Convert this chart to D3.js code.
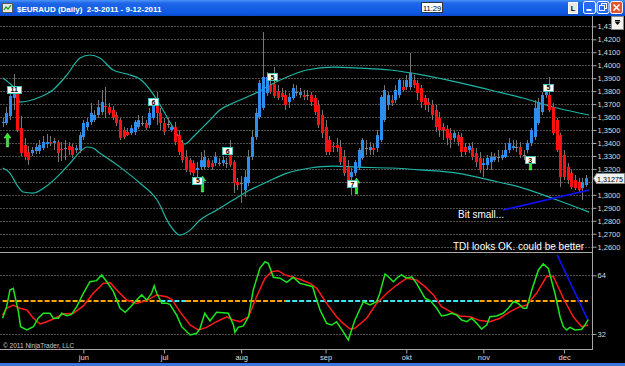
<!DOCTYPE html>
<html>
<head>
<meta charset="utf-8">
<script src="https://cdn.jsdelivr.net/npm/d3@7"></script>
<style>
html, body { margin: 0; padding: 0; background: #000; overflow: hidden; }
svg { display: block; }
text { font-family: "Liberation Sans", Arial, sans-serif; }
</style>
</head>
<body>
<script>
// EURAUD daily, 2-5-2011 .. 9-12-2011 (160 trading days)
const open = [1.3554,1.3554,1.3608,1.3747,1.3793,1.3515,1.3384,1.3330,1.3322,1.3338,1.3338,1.3361,1.3392,1.3407,1.3400,1.3407,1.3353,1.3361,1.3376,1.3369,
1.3346,1.3346,1.3446,1.3523,1.3562,1.3577,1.3616,1.3639,1.3685,1.3677,1.3654,1.3616,1.3577,1.3500,1.3485,1.3477,1.3485,1.3523,1.3554,1.3554,
1.3539,1.3593,1.3731,1.3631,1.3554,1.3546,1.3500,1.3523,1.3461,1.3400,1.3292,1.3268,1.3245,1.3191,1.3214,1.3214,1.3268,1.3245,1.3245,1.3245,
1.3245,1.3245,1.3361,1.3253,1.3099,1.3091,1.3037,1.3091,1.3292,1.3446,1.3600,1.3670,1.3785,1.3847,1.3855,1.3801,1.3785,1.3770,1.3716,1.3747,
1.3793,1.3770,1.3770,1.3770,1.3770,1.3747,1.3693,1.3616,1.3523,1.3423,1.3376,1.3384,1.3369,1.3292,1.3214,1.3137,1.3168,1.3214,1.3284,1.3361,
1.3346,1.3361,1.3361,1.3423,1.3577,1.3693,1.3731,1.3731,1.3770,1.3832,1.3832,1.3832,1.3886,1.3863,1.3824,1.3747,1.3716,1.3693,1.3654,1.3593,
1.3523,1.3508,1.3477,1.3438,1.3461,1.3446,1.3369,1.3346,1.3361,1.3322,1.3284,1.3230,1.3230,1.3253,1.3268,1.3292,1.3284,1.3292,1.3346,1.3361,
1.3369,1.3369,1.3307,1.3346,1.3400,1.3446,1.3554,1.3639,1.3770,1.3770,1.3677,1.3577,1.3461,1.3307,1.3214,1.3168,1.3114,1.3099,1.3052,1.3076];
const high = [1.3593,1.3677,1.3793,1.3932,1.3824,1.3608,1.3438,1.3376,1.3369,1.3392,1.3423,1.3454,1.3469,1.3454,1.3438,1.3423,1.3407,1.3423,1.3407,1.3392,
1.3384,1.3485,1.3577,1.3593,1.3708,1.3654,1.3731,1.3809,1.3832,1.3708,1.3685,1.3639,1.3593,1.3523,1.3515,1.3539,1.3577,1.3616,1.3608,1.3577,
1.3670,1.3731,1.3793,1.3670,1.3593,1.3593,1.3546,1.3562,1.3500,1.3423,1.3346,1.3284,1.3268,1.3253,1.3330,1.3346,1.3284,1.3268,1.3330,1.3284,
1.3299,1.3284,1.3423,1.3268,1.3130,1.3145,1.3191,1.3346,1.3500,1.3670,1.3886,1.4256,1.3947,1.3886,1.3986,1.3847,1.3824,1.3809,1.3785,1.3855,
1.3847,1.3824,1.3809,1.3809,1.3793,1.3770,1.3731,1.3654,1.3577,1.3454,1.3407,1.3438,1.3423,1.3346,1.3268,1.3207,1.3268,1.3361,1.3438,1.3423,
1.3407,1.3392,1.3500,1.3770,1.3847,1.3793,1.3770,1.3847,1.3901,1.3886,1.3924,1.4094,1.3924,1.3886,1.3847,1.3770,1.3747,1.3731,1.3693,1.3639,
1.3554,1.3539,1.3515,1.3500,1.3485,1.3477,1.3400,1.3400,1.3407,1.3361,1.3330,1.3284,1.3307,1.3330,1.3322,1.3346,1.3346,1.3400,1.3438,1.3423,
1.3423,1.3407,1.3346,1.3423,1.3515,1.3731,1.3747,1.3793,1.3824,1.3909,1.3708,1.3593,1.3480,1.3346,1.3245,1.3191,1.3153,1.3130,1.3130,1.3153];
const low = [1.3523,1.3539,1.3577,1.3654,1.3485,1.3299,1.3268,1.3230,1.3299,1.3315,1.3315,1.3346,1.3361,1.3376,1.3346,1.3253,1.3261,1.3268,1.3307,1.3284,
1.3322,1.3322,1.3423,1.3500,1.3539,1.3562,1.3593,1.3616,1.3593,1.3616,1.3577,1.3531,1.3423,1.3431,1.3454,1.3461,1.3461,1.3508,1.3531,1.3500,
1.3515,1.3577,1.3539,1.3500,1.3461,1.3515,1.3485,1.3384,1.3307,1.3245,1.3176,1.3153,1.3145,1.3083,1.3191,1.3199,1.3207,1.3191,1.3222,1.3222,
1.3222,1.3207,1.3214,1.3014,1.3037,1.2937,1.2983,1.3068,1.3268,1.3423,1.3585,1.3654,1.3762,1.3778,1.3747,1.3731,1.3731,1.3654,1.3670,1.3731,
1.3762,1.3747,1.3731,1.3731,1.3685,1.3616,1.3515,1.3438,1.3307,1.3307,1.3330,1.3330,1.3230,1.3145,1.3076,1.2998,1.3145,1.3191,1.3268,1.3307,
1.3307,1.3307,1.3330,1.3407,1.3562,1.3654,1.3685,1.3708,1.3747,1.3793,1.3809,1.3809,1.3824,1.3731,1.3670,1.3654,1.3639,1.3577,1.3485,1.3446,
1.3423,1.3384,1.3361,1.3407,1.3376,1.3292,1.3307,1.3322,1.3268,1.3214,1.3168,1.3137,1.3191,1.3191,1.3253,1.3253,1.3268,1.3284,1.3322,1.3346,
1.3330,1.3284,1.3268,1.3322,1.3376,1.3423,1.3539,1.3616,1.3747,1.3639,1.3461,1.3330,1.3060,1.3114,1.3083,1.3045,1.3037,1.3022,1.2960,1.3060];
const close = [1.3562,1.3631,1.3762,1.3809,1.3500,1.3322,1.3292,1.3268,1.3346,1.3369,1.3384,1.3407,1.3407,1.3400,1.3415,1.3322,1.3346,1.3361,1.3346,1.3307,
1.3361,1.3461,1.3554,1.3562,1.3631,1.3616,1.3677,1.3716,1.3683,1.3631,1.3600,1.3554,1.3438,1.3446,1.3461,1.3515,1.3562,1.3577,1.3554,1.3515,
1.3631,1.3708,1.3631,1.3554,1.3485,1.3546,1.3523,1.3407,1.3330,1.3268,1.3191,1.3176,1.3168,1.3207,1.3268,1.3292,1.3214,1.3214,1.3292,1.3245,
1.3268,1.3245,1.3230,1.3091,1.3076,1.3091,1.3137,1.3292,1.3446,1.3631,1.3863,1.3909,1.3909,1.3793,1.3762,1.3747,1.3755,1.3693,1.3755,1.3824,
1.3793,1.3793,1.3755,1.3770,1.3716,1.3639,1.3539,1.3477,1.3330,1.3330,1.3369,1.3361,1.3253,1.3168,1.3091,1.3176,1.3253,1.3346,1.3423,1.3361,
1.3369,1.3346,1.3461,1.3755,1.3809,1.3770,1.3708,1.3809,1.3886,1.3809,1.3886,1.3940,1.3847,1.3785,1.3716,1.3693,1.3693,1.3616,1.3523,1.3500,
1.3500,1.3438,1.3423,1.3477,1.3407,1.3330,1.3330,1.3376,1.3292,1.3253,1.3191,1.3245,1.3284,1.3292,1.3292,1.3292,1.3307,1.3346,1.3400,1.3376,
1.3369,1.3307,1.3307,1.3400,1.3500,1.3670,1.3716,1.3770,1.3793,1.3654,1.3477,1.3346,1.3137,1.3137,1.3114,1.3060,1.3052,1.3037,1.3099,1.31275];

// bands, read as [bar, price]
const upperBand = [[0,1.3901],[1.5,1.3870],[3.9,1.3793],[4.7,1.3716],[10.2,1.3755],[13.7,1.3809],[17.5,1.3924],[21.1,1.4056],[23.8,1.4079],
[26.5,1.4056],[30.1,1.3963],[33.9,1.3932],[37.4,1.3893],[40.2,1.3809],[42.9,1.3693],[46.4,1.3523],[49.7,1.3392],[51.9,1.3446],[54.6,1.3523],
[56.5,1.3577],[59.2,1.3654],[62.8,1.3708],[66.6,1.3755],[69.6,1.3793],[72.9,1.3847],[77.5,1.3909],[82.9,1.3963],[90,1.3986],[97.4,1.3978],
[105.6,1.3963],[114.6,1.3924],[123.8,1.3870],[132.8,1.3809],[141.8,1.3747],[151.1,1.3670],[159.8,1.3616]];
const lowerBand = [[0,1.3207],[2,1.3168],[3.9,1.3076],[5.6,1.3022],[8.3,1.3014],[11.6,1.3060],[14.8,1.3137],[18.4,1.3245],[21,1.3330],[23,1.3369],
[24.6,1.3361],[26.5,1.3322],[32,1.3214],[37.4,1.3091],[42.1,1.2960],[45.6,1.2767],[48.3,1.2690],[51.1,1.2728],[53.8,1.2806],[58.4,1.2883],
[62.8,1.2960],[67.4,1.3037],[72,1.3099],[77.5,1.3168],[83.8,1.3207],[90,1.3222],[96.6,1.3214],[105.6,1.3207],[114.6,1.3191],[123.8,1.3168],
[132.8,1.3114],[141.8,1.3052],[151.1,1.2960],[159.8,1.2867]];
const trendLine = [[136.4,1.2883],[159.8,1.3037]];

// signal labels and arrows
const signalBars = [3, 41, 61.2, 53.1, 73.4, 95.2, 143.6, 148.6];
const signalPrices = [1.3816, 1.3720, 1.3342, 1.3114, 1.3913, 1.3087, 1.3272, 1.3832];
const signalTexts = ["11", "6", "6", "5", "5", "7", "3", "5"];
const arrowBars = [1.2, 54.4, 96.3, 143.7];
const arrowTips = [1.3477, 1.3145, 1.3130, 1.3292];
const arrowBases = [1.3369, 1.3022, 1.3006, 1.3191];

// TDI panel, read as [bar, value]
const tdiGreen = [[0,40.6],[1.1,46.9],[2,56.0],[2.9,56.9],[4.3,44.2],[4.9,36.0],[6.6,34.2],[8.4,36.0],[9.7,40.6],[11.1,43.3],[12.9,43.3],
[13.8,40.6],[15.2,40.6],[16.1,43.3],[17.5,42.0],[18.8,42.7],[20.2,46.9],[22,54.2],[23.8,60.5],[25.6,61.1],[27,64.2],[28.4,60.5],[30.2,55.1],
[32,46.0],[33.4,43.8],[34.7,46.5],[36.5,50.5],[37.9,53.3],[39.3,50.5],[40.6,54.2],[41.3,58.3],[42,54.2],[43.4,48.7],[44.7,48.7],[45.6,48.2],
[47.4,42.4],[48.8,36.0],[51.1,31.5],[52.9,32.4],[53.8,35.1],[55.1,43.3],[56.5,39.1],[58.3,43.8],[60.1,43.6],[61.5,43.3],[62.9,36.9],[63.3,32.9],
[64.2,35.6],[65.6,36.4],[67,41.4],[68.3,56.0],[70.1,67.8],[71.5,71.4],[72.4,70.5],[73.8,62.9],[75.6,62.4],[77.4,60.2],[79.2,62.9],[81,59.6],
[82.9,58.7],[84.5,57.8],[85.3,52.3],[86.5,45.1],[88.3,37.8],[89.7,36.9],[91,38.7],[92.8,33.3],[94.2,28.7],[96,39.6],[98.3,49.6],[100.1,47.8],
[101.9,49.6],[102.8,54.2],[104.2,64.7],[105.1,63.2],[106.5,60.5],[107.8,63.2],[108.7,64.2],[110.1,62.4],[111.5,63.2],[112.8,59.6],[115.1,51.5],
[116.5,50.2],[118.3,46.0],[119.6,41.8],[121,42.4],[122.4,43.3],[123.7,42.4],[125.1,39.6],[126.5,38.7],[127.8,40.6],[129.2,37.8],[130.5,34.7],
[131.9,36.9],[132.8,41.4],[134.6,41.8],[136.4,43.3],[137.8,46.0],[139.2,49.6],[140.5,48.7],[141.9,46.0],[142.8,46.0],[144.2,56.0],[146,66.9],
[147.3,70.2],[148.7,67.8],[150.5,54.2],[151.9,41.4],[152.8,36.0],[153.7,34.2],[154.6,35.6],[156,34.2],[157.8,34.6],[158.7,36.9],[159.6,40.0]];
const tdiRed = [[0,42.4],[1.1,46.0],[2.9,47.8],[4.7,46.0],[6.6,45.1],[8.4,40.6],[10.2,37.5],[12,38.7],[14.3,40.6],[16.5,42.9],[19.3,43.3],
[22,47.3],[24.7,54.2],[27.4,59.6],[29.3,60.0],[31.1,56.0],[33.8,50.5],[36.5,48.7],[39.3,50.2],[42,53.3],[44.7,52.3],[46.1,50.9],[48.3,44.2],
[51.1,36.9],[53.3,34.2],[55.6,35.6],[58.3,38.7],[61.1,41.4],[62.9,39.6],[64.7,38.7],[67,41.4],[69.2,52.3],[71.5,62.4],[73.3,66.0],[75.1,66.5],
[76.9,64.2],[79.2,62.9],[81.5,61.4],[83.8,59.6],[85.6,56.9],[88.3,48.7],[91,41.4],[92.8,37.8],[94.7,34.7],[96,35.1],[99.2,40.6],[101.9,48.7],
[104.7,54.2],[107.4,58.7],[110.1,62.4],[112.8,61.4],[115.1,57.8],[117.4,53.3],[119.6,46.9],[122,44.2],[124.6,41.8],[127.4,41.4],[130.1,39.3],
[132.8,38.7],[135.5,40.6],[138.3,44.2],[141,46.9],[142.8,47.8],[145.5,54.2],[148.3,63.6],[150.1,63.2],[152.8,51.5],[155.5,41.4],[157.8,36.0],[159.6,36.9]];
const tdiTrend = [[151.1,75.1],[159.4,40.0]];
const midLevel = 50;
const midSegments = [[0,43,"up"],[43,50,"down"],[50,77,"up"],[77,130,"down"],[130,159.5,"up"]];
const bandLevels = [32, 64];

const monthBars = [22, 44, 65, 88, 110, 131, 153];
const monthLabels = ["jun", "jul", "aug", "sep", "okt", "nov", "dec"];
const priceTicks = d3.range(126, 144).map(d => d / 100);

const title = "$EURAUD (Daily)  2-5-2011 - 9-12-2011";
const clock = "11:29";
const notes = ["Bit small...", "TDI looks OK. could be better"];

// ---------- layout ----------
const W = 625, H = 366;
const axisX = 592;
const priceTop = 16, priceBottom = 252, tdiBottom = 349;

const svg = d3.select("body").append("svg").attr("width", W).attr("height", H);
svg.append("rect").attr("width", W).attr("height", H).attr("fill", "#000");

const x = d3.scaleLinear().domain([0, 159]).range([2.6, 586.1]);
const y = d3.scaleLinear().domain([1.26, 1.42]).range([246.7, 39.3]);
const yT = d3.scaleLinear().domain([32, 64]).range([334, 275.3]);

const nl = d3.formatLocale({decimal: ",", thousands: ".", grouping: [3], currency: ["€", ""]});
const fmt4 = nl.format(".4f");
const fmt5 = nl.format(".5f");

const defs = svg.append("defs");
defs.append("clipPath").attr("id", "cp").append("rect")
  .attr("x", 0).attr("y", priceTop).attr("width", axisX).attr("height", priceBottom - priceTop);
defs.append("clipPath").attr("id", "ct").append("rect")
  .attr("x", 0).attr("y", priceBottom + 1).attr("width", axisX).attr("height", tdiBottom - priceBottom - 1);

// grid
const grid = svg.append("g");
grid.selectAll("line.pg").data(priceTicks).join("line")
  .attr("x1", 0).attr("x2", axisX)
  .attr("y1", d => Math.round(y(d)) + 0.5).attr("y2", d => Math.round(y(d)) + 0.5)
  .attr("stroke", "#4e4e4e").attr("stroke-dasharray", "2,1");
grid.selectAll("line.tg").data(bandLevels).join("line")
  .attr("x1", 0).attr("x2", axisX)
  .attr("y1", d => Math.round(yT(d)) + 0.5).attr("y2", d => Math.round(yT(d)) + 0.5)
  .attr("stroke", "#4e4e4e").attr("stroke-dasharray", "2,1");

// price panel
const pg = svg.append("g").attr("clip-path", "url(#cp)");
const bandLine = d3.line().x(d => x(d[0])).y(d => y(d[1])).curve(d3.curveMonotoneX);
pg.selectAll("path.band").data([upperBand, lowerBand]).join("path")
  .attr("d", bandLine).attr("fill", "none").attr("stroke", "#1fb5a6").attr("stroke-width", 1.2);

const bars = d3.range(close.length);
pg.selectAll("line.wick").data(bars).join("line")
  .attr("x1", i => Math.round(x(i)) + 0.5).attr("x2", i => Math.round(x(i)) + 0.5)
  .attr("y1", i => y(high[i])).attr("y2", i => y(low[i]))
  .attr("stroke", "#777");
pg.selectAll("rect.body").data(bars).join("rect")
  .attr("x", i => Math.round(x(i)) - 1)
  .attr("width", 3)
  .attr("y", i => y(Math.max(open[i], close[i])))
  .attr("height", i => Math.max(1, Math.abs(y(open[i]) - y(close[i]))))
  .attr("fill", i => close[i] > open[i] ? "#2c8ff0" : close[i] < open[i] ? "#ff1010" : "#8a8a8a");

pg.append("path").datum(trendLine)
  .attr("d", d3.line().x(d => x(d[0])).y(d => y(d[1])))
  .attr("stroke", "#1010ff").attr("stroke-width", 1.5).attr("fill", "none");

// arrows
arrowBars.forEach((b, i) => {
  const cx = Math.round(x(b)) + 0.5, t = y(arrowTips[i]), bs = y(arrowBases[i]);
  pg.append("path")
    .attr("d", `M${cx},${t} L${cx + 3.5},${t + 5} L${cx + 1.2},${t + 5} L${cx + 1.2},${bs} L${cx - 1.2},${bs} L${cx - 1.2},${t + 5} L${cx - 3.5},${t + 5} Z`)
    .attr("fill", "#22ee22").attr("stroke", "#bfffbf").attr("stroke-width", 0.4);
});

// signal labels
signalBars.forEach((b, i) => {
  const cx = x(b), cy = y(signalPrices[i]);
  const w = signalTexts[i].length * 4 + 6;
  pg.append("rect").attr("x", Math.round(cx - w / 2) + 0.5).attr("y", Math.round(cy - 3.5) + 0.5)
    .attr("width", w).attr("height", 7).attr("fill", "#fff").attr("stroke", "#3fc8b8");
  pg.append("text").attr("x", cx + 0.5).attr("y", cy + 3).attr("text-anchor", "middle")
    .attr("font-size", 7).attr("font-weight", "bold").attr("fill", "#000").text(signalTexts[i]);
});

// TDI panel
const tg = svg.append("g").attr("clip-path", "url(#ct)");
const midColor = {up: "#ffa500", down: "#40e6f0"};
tg.selectAll("line.mid").data(midSegments).join("line")
  .attr("x1", d => x(d[0])).attr("x2", d => x(d[1]))
  .attr("y1", Math.round(yT(midLevel))).attr("y2", Math.round(yT(midLevel)))
  .attr("stroke", d => midColor[d[2]]).attr("stroke-width", 2).attr("stroke-dasharray", "5,2");
const tLine = d3.line().x(d => x(d[0])).y(d => yT(d[1]));
tg.append("path").datum(tdiRed).attr("d", tLine).attr("fill", "none").attr("stroke", "#ff1a1a").attr("stroke-width", 1.5);
tg.append("path").datum(tdiGreen).attr("d", tLine).attr("fill", "none").attr("stroke", "#1ee61e").attr("stroke-width", 1.5);
tg.append("path").datum(tdiTrend).attr("d", tLine).attr("fill", "none").attr("stroke", "#1010ff").attr("stroke-width", 1.5);

// frame lines
svg.append("line").attr("x1", 0).attr("x2", axisX).attr("y1", priceBottom + 0.5).attr("y2", priceBottom + 0.5).attr("stroke", "#a8a8a8");
svg.append("line").attr("x1", 0).attr("x2", axisX).attr("y1", tdiBottom + 0.5).attr("y2", tdiBottom + 0.5).attr("stroke", "#a8a8a8");
svg.append("line").attr("x1", axisX + 0.5).attr("x2", axisX + 0.5).attr("y1", priceTop).attr("y2", tdiBottom + 1).attr("stroke", "#a8a8a8");

// axes
const lastPrice = close[close.length - 1];
function styleAxis(g) {
  g.select(".domain").remove();
  g.selectAll(".tick line").attr("stroke", "#a8a8a8");
  g.selectAll(".tick text").attr("fill", "#dcdcdc").attr("font-size", 7.5)
    .attr("font-family", "'Liberation Sans', Arial, sans-serif");
}
// the last-price tag hides the tick label behind it
const shownTicks = priceTicks.filter(d => Math.abs(y(d) - y(lastPrice)) > 6);
svg.append("g").attr("transform", `translate(${axisX + 0.5},0)`)
  .call(d3.axisRight(y).tickValues(shownTicks).tickSize(4).tickPadding(1).tickFormat(fmt4))
  .call(styleAxis);
svg.append("g").attr("transform", `translate(${axisX + 0.5},0)`)
  .call(d3.axisRight(yT).tickValues(bandLevels).tickSize(4).tickPadding(1).tickFormat(d3.format("d")))
  .call(styleAxis);
svg.append("g").attr("transform", `translate(0,${tdiBottom + 0.5})`)
  .call(d3.axisBottom(x).tickValues(monthBars).tickSize(4).tickPadding(1).tickFormat((d, i) => monthLabels[i]))
  .call(styleAxis);

// last price tag
const ly = Math.round(y(lastPrice));
svg.append("path")
  .attr("d", `M${axisX + 1.5},${ly + 0.5} L${axisX + 4.5},${ly - 4.5} L${W - 0.5},${ly - 4.5} L${W - 0.5},${ly + 5.5} L${axisX + 4.5},${ly + 5.5} Z`)
  .attr("fill", "#f2f2f2").attr("stroke", "#888");
svg.append("text").attr("x", axisX + 5).attr("y", ly + 3.5).attr("font-size", 7)
  .attr("textLength", 26).attr("lengthAdjust", "spacingAndGlyphs")
  .attr("fill", "#000").text(fmt5(lastPrice));

// texts
svg.append("text").attr("x", 3).attr("y", 347.5).attr("font-size", 6.5).attr("fill", "#c8c8c8").text("© 2011 NinjaTrader, LLC");
svg.append("text").attr("x", 458).attr("y", 218).attr("font-size", 10).attr("fill", "#fff").text(notes[0]);
svg.append("text").attr("x", 453).attr("y", 250).attr("font-size", 10).attr("fill", "#fff").text(notes[1]);

// window chrome
const grad = defs.append("linearGradient").attr("id", "tb").attr("x1", 0).attr("x2", 0).attr("y1", 0).attr("y2", 1);
grad.append("stop").attr("offset", "0%").attr("stop-color", "#4a92f8");
grad.append("stop").attr("offset", "20%").attr("stop-color", "#1f66e8");
grad.append("stop").attr("offset", "80%").attr("stop-color", "#0c58e0");
grad.append("stop").attr("offset", "100%").attr("stop-color", "#0a4ccc");
svg.append("rect").attr("width", W).attr("height", 16).attr("fill", "url(#tb)");
svg.append("rect").attr("y", 363).attr("width", W).attr("height", 3).attr("fill", "#3a74dc");

const icon = svg.append("g");
icon.append("rect").attr("x", 2.5).attr("y", 3.5).attr("width", 10).attr("height", 9).attr("fill", "#e8e8e8").attr("stroke", "#555");
icon.append("path").attr("d", "M4,10 L6,7 L8,9 L11,5").attr("stroke", "#1a9a1a").attr("fill", "none").attr("stroke-width", 1.2);
svg.append("text").attr("x", 17).attr("y", 11.5).attr("font-size", 8).attr("font-weight", "bold")
  .attr("fill", "#fff").attr("xml:space", "preserve").style("white-space", "pre").text(title);

svg.append("rect").attr("x", 421.5).attr("y", 2.5).attr("width", 21).attr("height", 10).attr("fill", "#fff").attr("stroke", "#333");
svg.append("text").attr("x", 432).attr("y", 10.5).attr("text-anchor", "middle").attr("font-size", 7.5).attr("fill", "#000").text(clock);

svg.append("rect").attr("x", 568.5).attr("y", 2.5).attr("width", 9).attr("height", 11).attr("fill", "#ece9d8").attr("stroke", "#fff");
svg.append("text").attr("x", 573).attr("y", 11).attr("text-anchor", "middle").attr("font-size", 7.5).attr("font-weight", "bold").attr("fill", "#000").text("L");
[[583.5, "#2a6af0"], [597, "#2a6af0"], [610.5, "#e05530"]].forEach(([bx, c], k) => {
  svg.append("rect").attr("x", bx).attr("y", 1.5).attr("width", 12).attr("height", 12).attr("rx", 2)
    .attr("fill", c).attr("stroke", "#fff");
  if (k === 0) svg.append("rect").attr("x", bx + 3).attr("y", 9).attr("width", 5).attr("height", 2).attr("fill", "#fff");
  if (k === 1) {
    svg.append("rect").attr("x", bx + 4.5).attr("y", 3.5).attr("width", 5).attr("height", 5).attr("fill", "none").attr("stroke", "#fff");
    svg.append("rect").attr("x", bx + 2.5).attr("y", 5.5).attr("width", 5).attr("height", 5).attr("fill", c).attr("stroke", "#fff");
  }
  if (k === 2) svg.append("path").attr("d", `M${bx + 3},4.5 L${bx + 9},10.5 M${bx + 9},4.5 L${bx + 3},10.5`).attr("stroke", "#fff").attr("stroke-width", 1.6);
});

svg.append("rect").attr("x", 611.5).attr("y", 16.5).attr("width", 12).attr("height", 13).attr("fill", "#f3f2ec").attr("stroke", "#8a8a8a");
svg.append("path").attr("d", "M614.5,21.5 L620.5,21.5 L617.5,25 Z").attr("fill", "#000");
svg.append("rect").attr("x", 615).attr("y", 20).attr("width", 5).attr("height", 1).attr("fill", "#000");
</script>
</body>
</html>
